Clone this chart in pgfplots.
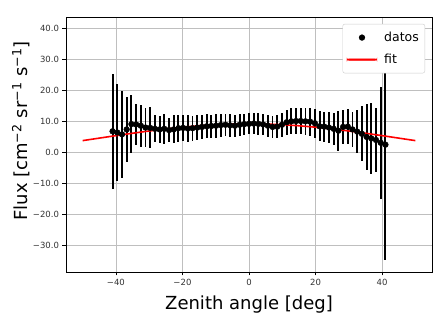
\documentclass[border=0pt]{standalone}
\usepackage{fontspec}
\setmainfont{DejaVu Sans}
\usepackage{pgfplots}
\pgfplotsset{compat=1.18}
\usepackage{pgfplotstable}

\pgfplotstableread{
x y e
-41.00 6.8 18.5
-39.59 6.4 15.6
-38.17 5.8 14.0
-36.76 7.4 10.5
-35.34 9.1 9.4
-33.93 9.0 6.5
-32.52 8.6 6.7
-31.10 8.0 6.2
-29.69 7.9 6.6
-28.28 7.6 4.3
-26.86 7.4 4.4
-25.45 7.6 4.8
-24.03 7.2 4.0
-22.62 7.4 4.5
-21.21 7.8 4.4
-19.79 7.9 4.2
-18.38 7.7 4.4
-16.97 7.8 4.0
-15.55 8.0 4.1
-14.14 8.2 3.8
-12.72 8.4 3.9
-11.31 8.5 3.7
-9.90 8.6 3.8
-8.48 8.8 3.7
-7.07 8.9 3.6
-5.66 8.7 3.6
-4.24 8.6 3.5
-2.83 8.9 3.5
-1.41 9.1 3.4
0.00 9.2 3.4
1.41 9.3 3.4
2.83 9.2 3.5
4.24 9.0 3.5
5.66 8.6 3.6
7.07 8.2 3.6
8.48 8.3 3.7
9.90 8.9 3.8
11.31 9.7 4.0
12.72 10.0 4.2
14.14 10.1 4.2
15.55 10.1 4.3
16.97 10.0 4.4
18.38 9.9 4.5
19.79 9.4 4.6
21.21 8.4 4.8
22.62 8.3 4.8
24.03 8.0 5.0
25.45 7.6 5.2
26.86 7.0 6.4
28.28 8.2 5.4
29.69 8.3 5.6
31.10 7.4 5.6
32.52 6.7 7.0
33.93 6.0 8.8
35.34 5.0 10.6
36.76 4.5 11.3
38.17 4.0 10.3
39.59 3.1 18.1
41.00 2.5 37.0
}\datos

\pgfplotstableread{
x y
-50 3.80
-45 4.60
-40 5.40
-35 6.17
-30 6.90
-25 7.56
-20 8.12
-15 8.58
-10 8.92
-5 9.13
0 9.20
5 9.13
10 8.92
15 8.58
20 8.12
25 7.56
30 6.90
35 6.17
40 5.40
45 4.60
50 3.80
}\fit

\begin{document}
\begin{tikzpicture}
\begin{axis}[
  scale only axis, width=366pt, height=255pt,
  xmin=-55, xmax=55, ymin=-38.5, ymax=43.6,
  xtick={-40,-20,0,20,40}, xticklabels={−40,−20,0,20,40},
  ytick={-30,-20,-10,0,10,20,30,40},
  yticklabels={−30.0,−20.0,−10.0,0.0,10.0,20.0,30.0,40.0},
  xtick pos=left, ytick pos=left,
  tick align=outside, major tick length=3.5pt,
  tick style={black, line width=0.8pt},
  ticklabel style={font=\fontsize{8.5}{10}\selectfont, text=black!80},
  grid=major, major grid style={black!25, line width=0.8pt},
  axis line style={line width=0.8pt},
  xlabel={Zenith angle [deg]},
  ylabel={Flux [cm\textsuperscript{−2} sr\textsuperscript{−1} s\textsuperscript{−1}]},
  label style={font=\fontsize{18}{21}\selectfont},
  xlabel style={at={(axis description cs:0.5,0)}, anchor=base, yshift=-38pt},
  ylabel style={at={(axis description cs:-0.123,0.553)}, anchor=center},
  legend style={at={(axis description cs:0.981,0.973)}, anchor=north east,
    draw=black!20, rounded corners=2pt, fill=white,
    font=\fontsize{12.5}{14}\selectfont, row sep=7pt,
    inner ysep=6pt, inner xsep=4pt},
  legend cell align=left,
]
\addplot[only marks, mark=none, forget plot,
  error bars/.cd, y dir=both, y explicit, error mark=none,
  error bar style={draw=black, line width=1.9pt}]
  table[x=x, y=y, y error=e] {\datos};
\addplot[red, line width=1.6pt, forget plot] table[x=x, y=y] {\fit};
\addplot[only marks, mark=*, mark size=2.9pt, black, forget plot]
  table[x=x, y=y] {\datos};
\addlegendimage{legend image code/.code={\fill[black] (15pt,0pt) circle (2.9pt);}}
\addlegendentry{\hspace{5pt}datos}
\addlegendimage{legend image code/.code={\fill[red] (0pt,-0.8pt) rectangle (30pt,0.8pt);}}
\addlegendentry{\hspace{5pt}fit}
\node[anchor=south west, font=\fontsize{8.5}{10}\selectfont, text=black!80, inner sep=1pt]
  at (rel axis cs:0,1) {1e−3};
\end{axis}
\path (current axis.south west) ++(-66pt,-47pt) coordinate (bl);
\path (current axis.north east) ++(11pt,17pt) coordinate (tr);
\path (bl) rectangle (tr);
\end{tikzpicture}
\end{document}
